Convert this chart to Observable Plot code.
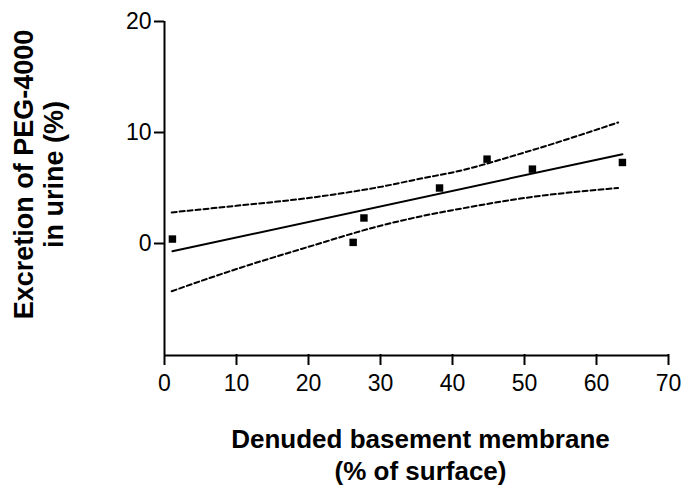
<!DOCTYPE html>
<html>
<head>
<meta charset="utf-8">
<script src="https://cdn.jsdelivr.net/npm/d3@7"></script>
<script src="https://cdn.jsdelivr.net/npm/@observablehq/plot@0.6"></script>
<style>
  html, body { margin: 0; padding: 0; background: #fff; }
  #chart svg { display: block; }
</style>
</head>
<body>
<div id="chart"></div>
<script>
// Measured points
const denuded   = [1.1, 26.2, 27.7, 38.2, 44.8, 51.1, 63.6];
const excretion = [0.4, 0.1, 2.3, 5.0, 7.6, 6.7, 7.3];

// 95% confidence band (dashed curves)
const ciX     = [1, 10, 20, 30, 36, 40, 50, 63];
const ciUpper = [2.8, 3.4, 4.1, 5.1, 5.9, 6.4, 8.2, 10.9];
const ciLower = [-4.3, -2.3, -0.3, 1.6, 2.5, 3.0, 4.1, 5.0];

// Axis ticks
const xTicks = [0, 10, 20, 30, 40, 50, 60, 70];
const yTicks = [0, 10, 20];

const xTitle = "Denuded basement membrane\n(% of surface)";
const yTitle = "Excretion of PEG-4000\nin urine (%)";

const points = denuded.map((x, i) => ({x, y: excretion[i]}));
const upper = ciX.map((x, i) => ({x, y: ciUpper[i]}));
const lower = ciX.map((x, i) => ({x, y: ciLower[i]}));

const chart = Plot.plot({
  width: 683,
  height: 492,
  marginLeft: 164,
  marginRight: 15,
  marginTop: 21,
  marginBottom: 138,
  x: {domain: [0, 70]},
  y: {domain: [-10, 20]},
  style: {fontFamily: "'Liberation Sans', Arial, sans-serif", background: "#fff", color: "#000"},
  marks: [
    Plot.axisY({ticks: yTicks, tickSize: 10, tickPadding: 3, fontSize: 23, label: null, strokeWidth: 2, tickFormat: d => String(d)}),
    Plot.axisX({ticks: xTicks, tickSize: 11, tickPadding: 9, fontSize: 23, label: null, strokeWidth: 2, tickFormat: d => String(d)}),
    Plot.ruleX([0], {y1: -10, y2: 20, stroke: "#000", strokeWidth: 2}),
    Plot.ruleY([-10], {x1: 0, x2: 70, dy: 1, stroke: "#000", strokeWidth: 2}),
    Plot.line(upper, {x: "x", y: "y", curve: "monotone-x", stroke: "#000", strokeWidth: 2, strokeDasharray: "5,3"}),
    Plot.line(lower, {x: "x", y: "y", curve: "monotone-x", stroke: "#000", strokeWidth: 2, strokeDasharray: "5,3"}),
    Plot.linearRegressionY(points, {x: "x", y: "y", ci: 0, stroke: "#000", strokeWidth: 2}),
    Plot.dot(points, {x: "x", y: "y", symbol: "square", r: 4.2, fill: "#000", stroke: "none"}),
    Plot.text([yTitle], {
      text: d => d, frameAnchor: "left", rotate: -90, lineAnchor: "middle",
      dx: -126, dy: -13.5, fontSize: 27, fontWeight: "bold", lineHeight: 1.1, fill: "#000", textAnchor: "middle"
    }),
    Plot.text([xTitle], {
      text: d => d, frameAnchor: "bottom", lineAnchor: "middle",
      dx: 4, dy: 99, fontSize: 26, fontWeight: "bold", lineHeight: 1.25, fill: "#000", textAnchor: "middle"
    })
  ]
});
document.getElementById("chart").appendChild(chart);
</script>
</body>
</html>
